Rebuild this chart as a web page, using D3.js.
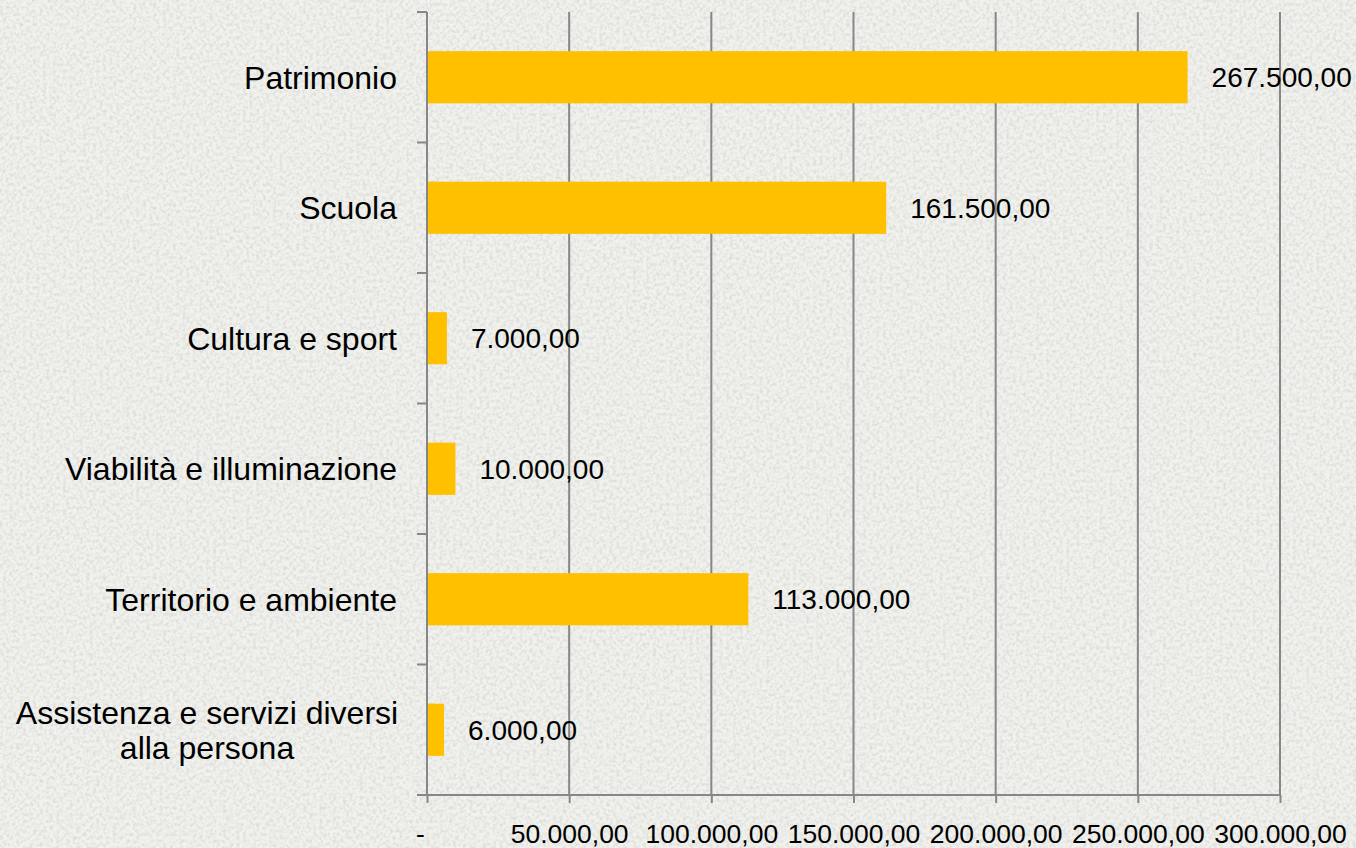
<!DOCTYPE html>
<html>
<head>
<meta charset="utf-8">
<script src="https://cdn.jsdelivr.net/npm/d3@7"></script>
<style>
  body { margin: 0; background: #efefec; }
  text { font-family: "Liberation Sans", Arial, sans-serif; fill: #000; }
</style>
</head>
<body>
<div id="chart"></div>
<script>
var categories = ["Patrimonio", "Scuola", "Cultura e sport", "Viabilità e illuminazione", "Territorio e ambiente", "Assistenza e servizi diversi|alla persona"];
var values = [267500, 161500, 7000, 10000, 113000, 6000];
var xTicks = [0, 50000, 100000, 150000, 200000, 250000, 300000];

(function () {
  var width = 1356;
  var height = 848;

  var svg = d3.select("#chart")
    .append("svg")
    .attr("width", width)
    .attr("height", height);

  // textured paper background
  var defs = svg.append("defs");
  var filt = defs.append("filter")
    .attr("id", "paper")
    .attr("x", 0).attr("y", 0).attr("width", "100%").attr("height", "100%");
  filt.append("feTurbulence")
    .attr("type", "fractalNoise")
    .attr("baseFrequency", 0.3)
    .attr("numOctaves", 3)
    .attr("seed", 5)
    .attr("result", "noise");
  filt.append("feColorMatrix")
    .attr("in", "noise")
    .attr("type", "matrix")
    .attr("values", "0 0 0 0 0.55  0 0 0 0 0.55  0 0 0 0 0.53  0 0 0 -2.4 1.45");

  svg.append("rect")
    .attr("width", width).attr("height", height)
    .attr("fill", "#f1f1ee");
  svg.append("rect")
    .attr("width", width).attr("height", height)
    .attr("filter", "url(#paper)")
    .attr("opacity", 0.45);

  var left = 427, right = 1280, top = 12, bottom = 795;

  var x = d3.scaleLinear().domain([0, 300000]).range([left, right]);
  var y = d3.scaleBand().domain(categories).range([top, bottom])
    .paddingInner(0.6).paddingOuter(0.3);

  var fmt = function (v) {
    if (v === 0) return "-";
    var s = d3.format(",.2f")(v);
    return s.replace(/,/g, "#").replace(".", ",").replace(/#/g, ".");
  };

  var grid = "#878787";

  // vertical gridlines
  svg.append("g")
    .selectAll("line")
    .data(xTicks.slice(1))
    .enter().append("line")
    .attr("x1", function (d) { return x(d); })
    .attr("x2", function (d) { return x(d); })
    .attr("y1", top)
    .attr("y2", bottom)
    .attr("stroke", grid)
    .attr("stroke-width", 2);

  // x axis
  var xAxis = svg.append("g")
    .attr("transform", "translate(0," + bottom + ")")
    .call(d3.axisBottom(x).tickValues(xTicks).tickFormat(fmt).tickSize(8).tickSizeOuter(0));
  xAxis.select(".domain").remove();
  xAxis.selectAll(".tick line").attr("stroke", grid).attr("stroke-width", 2);
  xAxis.selectAll(".tick text")
    .attr("y", 0)
    .attr("dy", 48)
    .style("font-size", "26.5px")
    .style("font-family", "Liberation Sans, Arial, sans-serif")
    .attr("dx", function (d) { return d === 0 ? -7 : 0; });
  xAxis.append("line")
    .attr("x1", left - 10).attr("x2", right)
    .attr("stroke", grid).attr("stroke-width", 2);

  // y axis with ticks at band boundaries
  var step = y.step();
  var bounds = d3.range(categories.length + 1).map(function (i) { return top + i * step; });
  svg.append("line")
    .attr("x1", left).attr("x2", left)
    .attr("y1", top).attr("y2", bottom)
    .attr("stroke", grid).attr("stroke-width", 2);
  svg.append("g")
    .selectAll("line")
    .data(bounds)
    .enter().append("line")
    .attr("x1", left - 10).attr("x2", left)
    .attr("y1", function (d) { return d; })
    .attr("y2", function (d) { return d; })
    .attr("stroke", grid).attr("stroke-width", 2);

  // bars
  svg.append("g")
    .selectAll("rect")
    .data(categories)
    .enter().append("rect")
    .attr("x", x(0) + 1)
    .attr("y", function (d) { return y(d); })
    .attr("height", y.bandwidth())
    .attr("width", function (d, i) { return x(values[i]) - x(0) - 1; })
    .attr("fill", "#FFC000");

  // value labels
  svg.append("g")
    .selectAll("text")
    .data(categories)
    .enter().append("text")
    .attr("x", function (d, i) { return x(values[i]) + 24; })
    .attr("y", function (d) { return y(d) + y.bandwidth() / 2; })
    .attr("dy", "0.36em")
    .style("font-size", "28px")
    .text(function (d, i) { return fmt(values[i]); });

  // category labels
  var cat = svg.append("g")
    .selectAll("text")
    .data(categories)
    .enter().append("text")
    .attr("text-anchor", "middle")
    .attr("y", function (d) { return y(d) + y.bandwidth() / 2; })
    .style("font-size", "32px");
  cat.each(function (d) {
    var lines = d.split("|");
    var t = d3.select(this);
    if (lines.length === 1) {
      t.attr("text-anchor", "end")
        .append("tspan").attr("x", left - 30).attr("dy", "0.36em").text(lines[0]);
    } else {
      lines.forEach(function (l, j) {
        t.append("tspan")
          .attr("x", 207)
          .attr("dy", j === 0 ? (0.36 - 0.55 * (lines.length - 1)) + "em" : "1.1em")
          .text(l);
      });
    }
  });
})();
</script>
</body>
</html>
